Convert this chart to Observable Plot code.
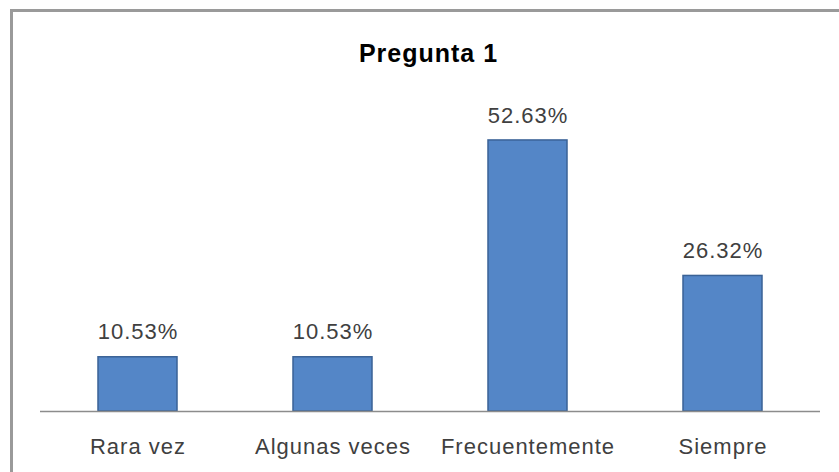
<!DOCTYPE html>
<html>
<head>
<meta charset="utf-8">
<script src="https://cdn.jsdelivr.net/npm/d3@7"></script>
<script src="https://cdn.jsdelivr.net/npm/@observablehq/plot@0.6"></script>
<style>
  html, body { margin: 0; padding: 0; background: #fff; }
  #wrap { position: relative; width: 839px; height: 472px; overflow: hidden; font-family: "Liberation Sans", Arial, sans-serif; }
  #frame { position: absolute; left: 10px; top: 9px; width: 900px; height: 600px; border-top: 3px solid #9a9a9a; border-left: 3px solid #9a9a9a; pointer-events: none; box-sizing: border-box; }
  #title { height: 80px; width: 839px; box-sizing: border-box; padding-top: 38px; text-align: center; font-weight: bold; font-size: 25px; letter-spacing: 1px; color: #000; line-height: 30px; padding-left: 18px; }
  svg { display: block; }
  #chart text { letter-spacing: 1px; }
</style>
</head>
<body>
<div id="wrap">
  <div id="title">Pregunta 1</div>
  <div id="chart"></div>
  <div id="frame"></div>
</div>
<script>
const categories = ["Rara vez", "Algunas veces", "Frecuentemente", "Siempre"];
const values = [10.53, 10.53, 52.63, 26.32];
const valueLabels = ["10.53%", "10.53%", "52.63%", "26.32%"];

const data = categories.map((c, i) => ({cat: c, v: values[i], label: valueLabels[i]}));

const chart = Plot.plot({
  width: 839,
  height: 392,
  marginLeft: 40,
  marginRight: 19,
  marginTop: 22,
  marginBottom: 61,
  style: {fontFamily: "'Liberation Sans', Arial, sans-serif", fontSize: "22px", color: "#404040", background: "transparent"},
  x: {domain: categories, paddingInner: 0.595, paddingOuter: 0.2975, label: null},
  y: {domain: [0, 60], axis: null},
  marks: [
    Plot.barY(data, {x: "cat", y: "v", fill: "#5486c7", stroke: "#3a6296", strokeWidth: 1.5}),
    Plot.ruleY([0], {stroke: "#8c8c8c", strokeWidth: 1.5}),
    Plot.text(data, {x: "cat", y: "v", text: "label", dy: -25, fill: "#404040", fontSize: 22}),
    Plot.axisX({tickSize: 0, tickPadding: 27, fontSize: 22, fill: "#404040"})
  ]
});
document.getElementById("chart").appendChild(chart);
</script>
</body>
</html>
